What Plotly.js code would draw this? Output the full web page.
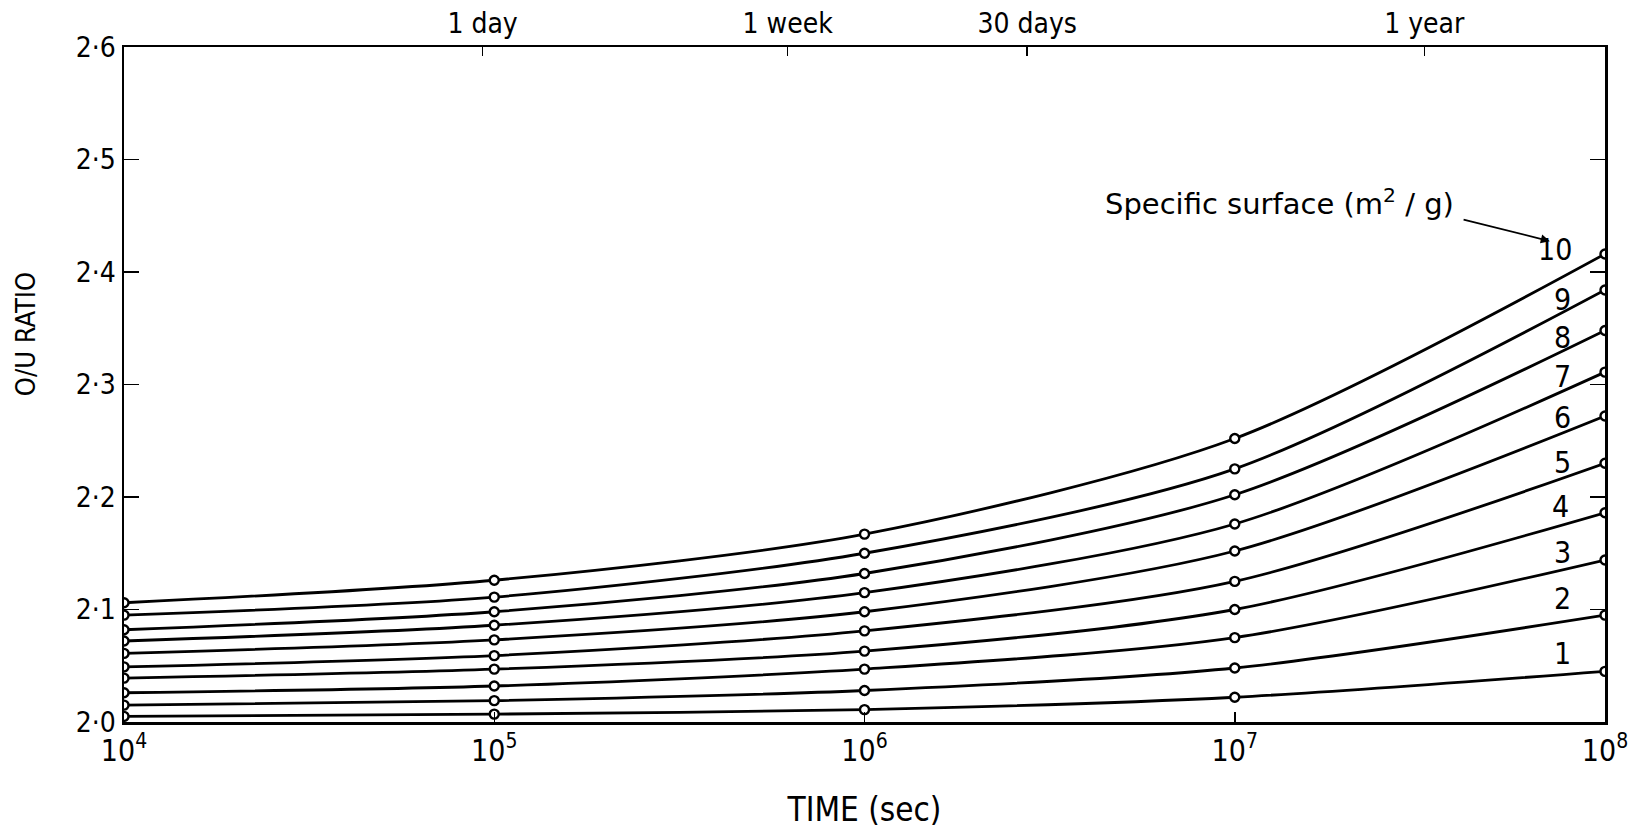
<!DOCTYPE html>
<html>
<head>
<meta charset="utf-8">
<script src="https://cdn.plot.ly/plotly-3.0.1.min.js"></script>
<style>html,body{margin:0;padding:0;background:#fff;}#chart{width:1645px;height:831px;}</style>
</head>
<body>
<div id="chart"></div>
<script>
// Time in seconds
const times = [1e4, 1e5, 1e6, 1e7, 1e8];
// Specific surface (m2/g)
const surfaces = [1, 2, 3, 4, 5, 6, 7, 8, 9, 10];
// O/U ratio per specific surface
const s1  = [2.005, 2.007, 2.011, 2.022, 2.045];
const s2  = [2.015, 2.019, 2.028, 2.048, 2.095];
const s3  = [2.026, 2.032, 2.047, 2.075, 2.144];
const s4  = [2.039, 2.047, 2.063, 2.100, 2.186];
const s5  = [2.049, 2.059, 2.081, 2.125, 2.230];
const s6  = [2.061, 2.073, 2.098, 2.152, 2.272];
const s7  = [2.072, 2.086, 2.115, 2.176, 2.311];
const s8  = [2.082, 2.098, 2.132, 2.202, 2.348];
const s9  = [2.095, 2.111, 2.150, 2.225, 2.384];
const s10 = [2.106, 2.126, 2.167, 2.252, 2.416];
const series = [s1, s2, s3, s4, s5, s6, s7, s8, s9, s10];

// Axis tick labels
const yTickVals = [2.0, 2.1, 2.2, 2.3, 2.4, 2.5, 2.6];
const yTickText = ['2·0', '2·1', '2·2', '2·3', '2·4', '2·5', '2·6'];
const xTickVals = [1e4, 1e5, 1e6, 1e7, 1e8];
const xTickText = ['10<sup>4</sup>', '10<sup>5</sup>', '10<sup>6</sup>', '10<sup>7</sup>', '10<sup>8</sup>'];
const topTickVals = [93000, 620000, 2750000, 32500000];
const topTickText = ['1 day', '1 week', '30 days', '1 year'];
// Curve label positions (log10 time, ratio)
const labelX = [7.885, 7.885, 7.885, 7.88, 7.885, 7.885, 7.885, 7.885, 7.885, 7.865];
const labelY = [2.061, 2.110, 2.1505, 2.1915, 2.2306, 2.271, 2.307, 2.342, 2.3758, 2.420];

const FONT = '"DejaVu Sans Condensed", "Liberation Sans Narrow", "DejaVu Sans", sans-serif';
const FONT_WIDE = '"DejaVu Sans", sans-serif';

const traces = series.map((ys, i) => ({
  x: times, y: ys, type: 'scatter', mode: 'lines+markers',
  name: String(surfaces[i]),
  line: {color: '#000', width: 2.8, shape: 'spline', smoothing: 0.8},
  marker: {symbol: 'circle', size: 9, color: '#fff', line: {color: '#000', width: 2.4}},
  showlegend: false, hoverinfo: 'x+y'
}));
// dummy trace for the top axis
traces.push({x: [1e4], y: [2.0], xaxis: 'x2', yaxis: 'y', mode: 'markers',
  marker: {opacity: 0}, showlegend: false, hoverinfo: 'skip'});

const annotations = surfaces.map((s, i) => ({
  x: labelX[i], y: labelY[i], xref: 'x', yref: 'y', text: String(s), showarrow: false,
  font: {family: FONT, size: 30, color: '#000'}
}));
annotations.push({
  x: 7.122, y: 2.462, xref: 'x', yref: 'y', text: 'Specific surface (m<sup>2</sup> / g)', showarrow: false,
  font: {family: FONT_WIDE, size: 29, color: '#000'}
});
annotations.push({
  x: 7.851, y: 2.4274, xref: 'x', yref: 'y', ax: 7.614, ay: 2.447, axref: 'x', ayref: 'y',
  text: '', showarrow: true, arrowhead: 2, arrowsize: 1, arrowwidth: 1.8, arrowcolor: '#000'
});
annotations.push({
  x: -0.066, y: 0.575, xref: 'paper', yref: 'paper', xanchor: 'center', yanchor: 'middle',
  text: 'O/U RATIO', textangle: -90,
  showarrow: false, font: {family: FONT, size: 27, color: '#000'}
});

const layout = {
  width: 1645, height: 831,
  paper_bgcolor: '#fff', plot_bgcolor: '#fff',
  margin: {l: 124, r: 40, t: 47, b: 109},
  font: {family: FONT, color: '#000'},
  xaxis: {
    type: 'log', range: [4, 8], showgrid: false, zeroline: false,
    showline: true, linecolor: '#000', linewidth: 2.5, mirror: false,
    tickmode: 'array', tickvals: xTickVals, ticktext: xTickText,
    ticks: 'inside', ticklen: 10, tickcolor: '#000', tickwidth: 1.5,
    tickfont: {family: FONT, size: 30, color: '#000'},
    title: {text: 'TIME (sec)', font: {family: FONT, size: 33, color: '#000'}, standoff: 32}
  },
  xaxis2: {
    type: 'log', range: [4, 8], overlaying: 'x', side: 'top', anchor: 'y',
    showgrid: false, zeroline: false, showline: true, linecolor: '#000', linewidth: 2.5,
    tickmode: 'array', tickvals: topTickVals, ticktext: topTickText,
    ticks: 'inside', ticklen: 9, tickcolor: '#000', tickwidth: 1.5,
    tickfont: {family: FONT, size: 28, color: '#000'}
  },
  yaxis: {
    range: [2.0, 2.6], showgrid: false, zeroline: false,
    showline: true, linecolor: '#000', linewidth: 2.5, mirror: 'ticks',
    tickmode: 'array', tickvals: yTickVals, ticktext: yTickText,
    ticks: 'inside', ticklen: 15, tickcolor: '#000', tickwidth: 1.5,
    tickfont: {family: FONT, size: 28, color: '#000'}
  },
  annotations: annotations,
  showlegend: false
};

Plotly.newPlot('chart', traces, layout, {displayModeBar: false, staticPlot: true});
</script>
</body>
</html>
